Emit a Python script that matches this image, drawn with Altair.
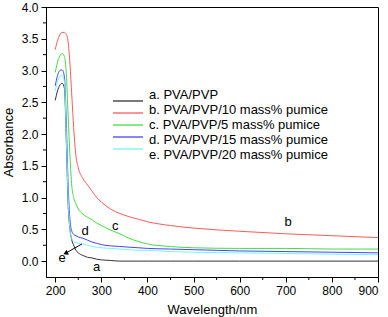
import altair as alt
import pandas as pd

wavelength = [200, 205, 210, 215, 220, 224, 228, 232, 236, 240, 245, 250, 260, 270,
              280, 290, 300, 320, 340, 360, 380, 400, 450, 500, 600, 700, 800, 900]

abs_a = [2.53, 2.68, 2.77, 2.80, 2.72, 1.90, 0.90, 0.50, 0.33, 0.25, 0.17, 0.13, 0.09, 0.06,
         0.05, 0.03, 0.02, 0.01, 0.00, 0.00, 0.00, 0.00, 0.00, 0.00, 0.00, 0.00, 0.00, 0.00]
abs_b = [3.33, 3.47, 3.56, 3.60, 3.60, 3.57, 3.45, 3.10, 2.60, 2.10, 1.65, 1.47, 1.30, 1.20,
         1.10, 1.00, 0.93, 0.82, 0.75, 0.70, 0.66, 0.62, 0.56, 0.52, 0.47, 0.43, 0.40, 0.37]
abs_c = [2.97, 3.13, 3.23, 3.27, 3.22, 2.95, 2.30, 1.65, 1.18, 1.00, 0.90, 0.82, 0.74, 0.69,
         0.65, 0.60, 0.56, 0.49, 0.43, 0.36, 0.31, 0.27, 0.23, 0.21, 0.20, 0.20, 0.19, 0.19]
abs_d = [2.76, 2.92, 3.00, 3.01, 2.90, 2.20, 1.20, 0.65, 0.47, 0.42, 0.40, 0.38, 0.36, 0.33,
         0.30, 0.28, 0.26, 0.24, 0.23, 0.22, 0.21, 0.20, 0.19, 0.18, 0.16, 0.15, 0.14, 0.13]
abs_e = [2.68, 2.83, 2.91, 2.92, 2.82, 2.00, 1.00, 0.50, 0.35, 0.31, 0.29, 0.28, 0.27, 0.25,
         0.23, 0.22, 0.21, 0.20, 0.19, 0.18, 0.17, 0.17, 0.15, 0.14, 0.13, 0.12, 0.11, 0.10]

series_names = ["a. PVA/PVP", "b. PVA/PVP/10 mass% pumice", "c. PVA/PVP/5 mass% pumice",
                "d. PVA/PVP/15 mass% pumice", "e. PVA/PVP/20 mass% pumice"]
series_colors = ["#333333", "#ff5a5a", "#44dd44", "#4444ff", "#77f5f5"]

x_major = [200, 300, 400, 500, 600, 700, 800, 900]
x_minor = [250, 350, 450, 550, 650, 750, 850]
y_major = [0.0, 0.5, 1.0, 1.5, 2.0, 2.5, 3.0, 3.5, 4.0]
y_minor = [0.25, 0.75, 1.25, 1.75, 2.25, 2.75, 3.25, 3.75]

ann_text = ["a", "b", "c", "d", "e"]
ann_x = [290, 705, 330, 265, 215]
ann_y = [-0.1, 0.62, 0.55, 0.47, 0.05]

arrow_x = [258, 224]
arrow_y = [0.27, 0.13]

rows = []
for name, vals in zip(series_names, [abs_a, abs_b, abs_c, abs_d, abs_e]):
    for w, v in zip(wavelength, vals):
        rows.append({"series": name, "wl": w, "abs": v})
df = pd.DataFrame(rows)

ann_df = pd.DataFrame({"t": ann_text, "x": ann_x, "y": ann_y})
arrow_df = pd.DataFrame({"x": [arrow_x[0]], "y": [arrow_y[0]], "x2": [arrow_x[1]], "y2": [arrow_y[1]]})
head_df = pd.DataFrame({"x": [arrow_x[1]], "y": [arrow_y[1]]})
xminor_df = pd.DataFrame({"x": x_minor})
yminor_df = pd.DataFrame({"y": y_minor})
legend_df = pd.DataFrame({"series": series_names})

FONT = "Liberation Sans"
xscale = alt.Scale(domain=[180, 900], nice=False)
yscale = alt.Scale(domain=[-0.25, 4.0], nice=False, zero=False)
cscale = alt.Scale(domain=series_names, range=series_colors)
legscale = alt.Scale(domain=series_names, range=[88, 148], padding=0)

x_axis = alt.Axis(
    title="Wavelength/nm", values=x_major, format="d",
    grid=False, domainColor="black", tickColor="black", labelOverlap=False, tickSize=5,
    labelFont=FONT, labelFontSize=12, labelColor="black", labelPadding=3,
    titleFont=FONT, titleFontSize=13, titleFontWeight="normal", titleColor="black",
    titlePadding=7,
)
y_axis = alt.Axis(
    title="Absorbance", values=y_major, format=".1f",
    grid=False, domainColor="black", tickColor="black", labelOverlap=False, tickSize=5,
    labelFont=FONT, labelFontSize=12, labelColor="black", labelPadding=3,
    titleFont=FONT, titleFontSize=13, titleFontWeight="normal", titleColor="black",
    titlePadding=6,
)

lines = alt.Chart(df).mark_line(strokeWidth=1, interpolate="monotone").encode(
    x=alt.X("wl:Q", scale=xscale, axis=x_axis),
    y=alt.Y("abs:Q", scale=yscale, axis=y_axis),
    color=alt.Color("series:N", scale=cscale, legend=None),
    order=alt.Order("wl:Q"),
)

xminor = alt.Chart(xminor_df).mark_rule(color="black", strokeWidth=1).encode(
    x=alt.X("x:Q", scale=xscale), y=alt.value(270), y2=alt.value(273)
)
yminor = alt.Chart(yminor_df).mark_rule(color="black", strokeWidth=1).encode(
    y=alt.Y("y:Q", scale=yscale, axis=None), x=alt.value(0), x2=alt.value(-3)
)

texts = alt.Chart(ann_df).mark_text(font=FONT, fontSize=13, color="black").encode(
    x=alt.X("x:Q", scale=xscale), y=alt.Y("y:Q", scale=yscale, axis=None),
    text="t:N"
)

arrow = alt.Chart(arrow_df).mark_rule(color="black", strokeWidth=1).encode(
    x=alt.X("x:Q", scale=xscale), y=alt.Y("y:Q", scale=yscale, axis=None),
    x2="x2:Q", y2="y2:Q"
)
head = alt.Chart(head_df).mark_point(shape="triangle", filled=True, color="black",
                                     size=30, angle=245, opacity=1).encode(
    x=alt.X("x:Q", scale=xscale), y=alt.Y("y:Q", scale=yscale, axis=None)
)

leg_lines = alt.Chart(legend_df).mark_rule(strokeWidth=1.3).encode(
    y=alt.Y("series:N", scale=legscale, axis=None),
    x=alt.value(67), x2=alt.value(97),
    color=alt.Color("series:N", scale=cscale, legend=None),
)
leg_text = alt.Chart(legend_df).mark_text(font=FONT, fontSize=13, color="black",
                                          align="left", baseline="middle").encode(
    y=alt.Y("series:N", scale=legscale, axis=None),
    x=alt.value(103), text="series:N",
)

chart = alt.layer(lines, xminor, yminor, arrow, head, texts, leg_lines, leg_text).resolve_scale(
    y="independent"
).properties(
    width=332, height=270, background="white",
    padding={"left": 46, "top": 7, "right": 10, "bottom": 40},
    autosize=alt.AutoSizeParams(type="none"),
).configure_view(stroke="black", strokeWidth=1, strokeOpacity=1)

chart.save("out.html", embed_options={"renderer": "svg", "actions": False})
